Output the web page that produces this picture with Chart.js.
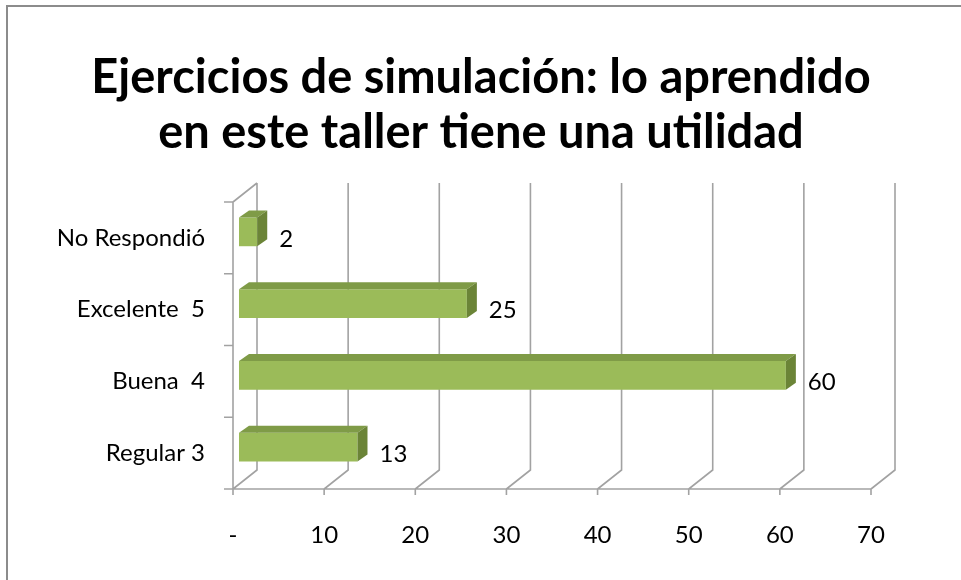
<!DOCTYPE html>
<html>
<head>
<meta charset="utf-8">
<script src="https://cdn.jsdelivr.net/npm/chart.js@4"></script>
<style>
  html, body { margin: 0; padding: 0; background: #fff; }
  #wrap { width: 961px; height: 580px; }
</style>
</head>
<body>
<div id="wrap"><canvas id="chart" width="961" height="580"></canvas></div>
<script>
// datos del gráfico
const categorias = ['No Respondió', 'Excelente  5', 'Buena  4', 'Regular 3'];
const valores = [2, 25, 60, 13];
const tituloLineas = ['Ejercicios de simulación: lo aprendido', 'en este taller tiene una utilidad'];

const FONT = 'Lato, Calibri, "Open Sans", sans-serif';
// profundidad de la pared del fondo y de las barras
const WALL_DX = 24, WALL_DY = -19;
const BAR_SHIFT = 6;
const BAR_DX = 10, BAR_DY = -7;
const GRID = '#a2a2a2';

const pseudo3d = {
    id: 'pseudo3d',
    beforeDraw(chart) {
        const ctx = chart.ctx;
        ctx.save();
        // borde del área del gráfico (solo arriba e izquierda en la imagen)
        ctx.strokeStyle = '#8c8c8c';
        ctx.lineWidth = 2;
        ctx.beginPath();
        ctx.moveTo(7, 580); ctx.lineTo(7, 6); ctx.lineTo(961, 6);
        ctx.stroke();
        // título
        ctx.fillStyle = '#000';
        ctx.font = 'bold 47px ' + FONT;
        ctx.textAlign = 'center';
        ctx.textBaseline = 'middle';
        ctx.fillText(tituloLineas[0], 481, 78);
        ctx.fillText(tituloLineas[1], 481, 133);
        ctx.restore();
    },
    beforeDatasetsDraw(chart) {
        const ctx = chart.ctx;
        const x = chart.scales.x;
        const a = chart.chartArea;
        ctx.save();
        ctx.strokeStyle = GRID;
        ctx.lineWidth = 1.6;
        ctx.beginPath();
        // pared del fondo + piso
        x.ticks.forEach(t => {
            const px = x.getPixelForValue(t.value);
            ctx.moveTo(px + WALL_DX, a.top + WALL_DY);
            ctx.lineTo(px + WALL_DX, a.bottom + WALL_DY);
            ctx.lineTo(px, a.bottom);
            // marca del eje
            ctx.moveTo(px, a.bottom);
            ctx.lineTo(px, a.bottom + 6);
        });
        // pared izquierda
        ctx.moveTo(a.left, a.top);
        ctx.lineTo(a.left + WALL_DX, a.top + WALL_DY);
        ctx.moveTo(a.left, a.top);
        ctx.lineTo(a.left, a.bottom);
        ctx.lineTo(a.right, a.bottom);
        // marcas del eje de categorías
        const step = (a.bottom - a.top) / categorias.length;
        for (let i = 0; i <= categorias.length; i++) {
            const py = a.top + i * step;
            ctx.moveTo(a.left - 9, py);
            ctx.lineTo(a.left, py);
        }
        ctx.stroke();
        ctx.restore();

        ctx.save();
        ctx.translate(BAR_SHIFT, -BAR_SHIFT);
    },
    afterDatasetsDraw(chart) {
        const ctx = chart.ctx;
        const meta = chart.getDatasetMeta(0);
        meta.data.forEach(bar => {
            const top = bar.y - bar.height / 2, bottom = bar.y + bar.height / 2;
            // cara superior
            ctx.fillStyle = '#7f9b47';
            ctx.beginPath();
            ctx.moveTo(bar.base, top);
            ctx.lineTo(bar.x, top);
            ctx.lineTo(bar.x + BAR_DX, top + BAR_DY);
            ctx.lineTo(bar.base + BAR_DX, top + BAR_DY);
            ctx.closePath();
            ctx.fill();
            // cara lateral
            ctx.fillStyle = '#6b8437';
            ctx.beginPath();
            ctx.moveTo(bar.x, top);
            ctx.lineTo(bar.x + BAR_DX, top + BAR_DY);
            ctx.lineTo(bar.x + BAR_DX, bottom + BAR_DY);
            ctx.lineTo(bar.x, bottom);
            ctx.closePath();
            ctx.fill();
        });
        ctx.restore();

        // etiquetas de datos
        ctx.save();
        ctx.fillStyle = '#000';
        ctx.font = '24px ' + FONT;
        ctx.textAlign = 'left';
        ctx.textBaseline = 'middle';
        meta.data.forEach((bar, i) => {
            ctx.fillText(String(valores[i]), bar.x + BAR_SHIFT + BAR_DX + 12, bar.y + 1);
        });
        ctx.restore();
    }
};

new Chart(document.getElementById('chart').getContext('2d'), {
    type: 'bar',
    data: {
        labels: categorias,
        datasets: [{
            data: valores,
            backgroundColor: '#9bbb59',
            borderWidth: 0,
            barPercentage: 0.4,
            categoryPercentage: 1
        }]
    },
    plugins: [pseudo3d],
    options: {
        indexAxis: 'y',
        responsive: false,
        animation: false,
        layout: { padding: { left: 20, right: 90, top: 202, bottom: 0 } },
        scales: {
            x: {
                min: 0, max: 70,
                ticks: {
                    stepSize: 10,
                    color: '#000',
                    font: { family: FONT, size: 24 },
                    padding: 32,
                    callback: v => v === 0 ? '-' : v
                },
                grid: { display: false, drawTicks: false },
                border: { display: false },
                afterFit: s => { s.height = 91; }
            },
            y: {
                ticks: {
                    color: '#000',
                    font: { family: FONT, size: 24 },
                    padding: 28
                },
                grid: { display: false, drawTicks: false },
                border: { display: false },
                afterFit: s => { s.width = 213; }
            }
        },
        plugins: {
            legend: { display: false },
            tooltip: { enabled: false },
            title: { display: false }
        }
    }
});
</script>
</body>
</html>
